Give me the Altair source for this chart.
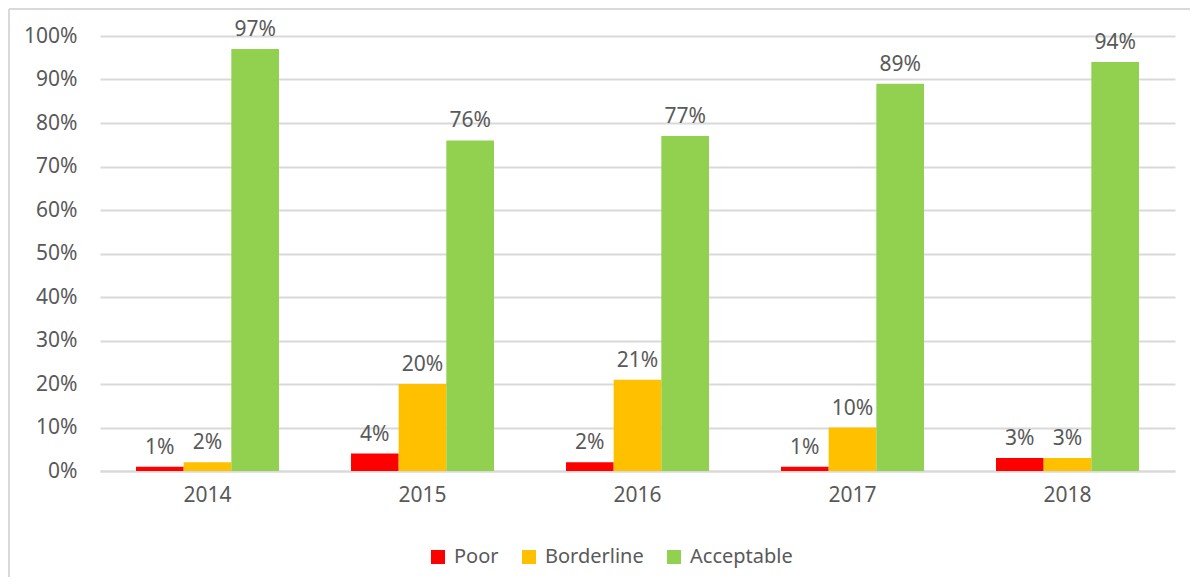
import altair as alt
import pandas as pd

years = ["2014", "2015", "2016", "2017", "2018"]
categories = ["Poor", "Borderline", "Acceptable"]
poor = [0.01, 0.04, 0.02, 0.01, 0.03]
borderline = [0.02, 0.20, 0.21, 0.10, 0.03]
acceptable = [0.97, 0.76, 0.77, 0.89, 0.94]
colors = ["#FF0000", "#FFC000", "#92D050"]
y_ticks = [i / 10 for i in range(11)]

rows = []
for i, yr in enumerate(years):
    for cat, vals in zip(categories, [poor, borderline, acceptable]):
        rows.append({"Year": yr, "Category": cat, "Value": vals[i]})
df = pd.DataFrame(rows)

W, H = 1075, 435
FONT = "Noto Sans"
FS = 21
TXT = "#595959"
GRID = "#D9D9D9"

base = alt.Chart(df).encode(
    x=alt.X("Year:N", sort=years,
            scale=alt.Scale(paddingInner=0.335, paddingOuter=0.1675),
            axis=alt.Axis(title=None, labelAngle=0, ticks=False, domain=True,
                          domainColor=GRID, domainWidth=2, labelPadding=13,
                          labelFontSize=FS, labelColor=TXT, labelFont=FONT)),
    xOffset=alt.XOffset("Category:N", sort=categories,
                        scale=alt.Scale(paddingInner=0, paddingOuter=0)),
    y=alt.Y("Value:Q", scale=alt.Scale(domain=[0, 1], nice=False),
            axis=alt.Axis(title=None, values=y_ticks, format=".0%", ticks=False,
                          domain=False, labelPadding=23, labelFontSize=FS,
                          labelColor=TXT, labelFont=FONT, gridColor=GRID,
                          gridWidth=2)),
)

bars = base.mark_bar().encode(
    color=alt.Color("Category:N", sort=categories,
                    scale=alt.Scale(domain=categories, range=colors),
                    legend=alt.Legend(title=None, orient="none", direction="horizontal",
                                      legendX=328, legendY=511, symbolType="square",
                                      symbolSize=196, symbolStrokeWidth=0,
                                      labelFontSize=20, labelColor=TXT, labelFont=FONT,
                                      columnPadding=20, labelOffset=6))
)

labels = base.mark_text(baseline="bottom", dy=-9, fontSize=FS, color=TXT, font=FONT).encode(
    text=alt.Text("Value:Q", format=".0%")
)

frame_df = pd.DataFrame({"k": [0]})
top_line = alt.Chart(frame_df).mark_rule(color=GRID, strokeWidth=2).encode(
    x=alt.value(-91), x2=alt.value(W + 15), y=alt.value(-27)
)
left_line = alt.Chart(frame_df).mark_rule(color=GRID, strokeWidth=2).encode(
    x=alt.value(-91), y=alt.value(-27), y2=alt.value(H + 106)
)

chart = alt.layer(top_line, left_line, bars, labels).properties(
    width=W, height=H, padding=0
).configure_view(stroke=None)

chart.save("out.html", embed_options={"renderer": "svg", "actions": False})
